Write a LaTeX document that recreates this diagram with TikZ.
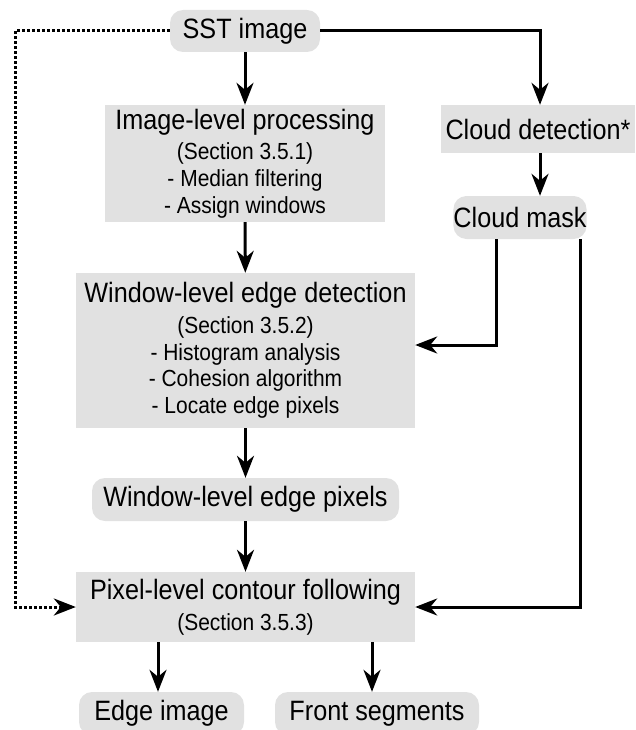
\documentclass[tikz,border=0pt]{standalone}
\usepackage{fontspec}
\setmainfont[FakeStretch=0.9]{Liberation Sans}
\usetikzlibrary{arrows.meta,calc}
\definecolor{boxgray}{RGB}{225,225,225}
\newcommand{\mainf}{\fontsize{28}{30}\selectfont}
\newcommand{\subf}{\fontsize{23.3}{26.7}\selectfont}
\tikzset{
  procbox/.style={rectangle, fill=boxgray, inner sep=0pt, align=center, font=\subf},
  databox/.style={rectangle, rounded corners=13pt, fill=boxgray, inner sep=0pt, align=center, font=\mainf},
  flow/.style={line width=3pt, -{Stealth[length=22pt,width=17pt,inset=7pt]}},
  dotflow/.style={line width=3pt, dotted, -{Stealth[length=22pt,width=17pt,inset=7pt]}}
}
\begin{document}
\begin{tikzpicture}[x=1pt,y=-1pt]
\clip (0,0) rectangle (635,730);
\useasboundingbox (0,0) rectangle (635,730);

\node[databox, minimum width=150pt, minimum height=42pt] (sst) at (245,31) {SST image};

\node[procbox, minimum width=280pt, minimum height=117pt] (img) at (245,163.5)
  {{\mainf Image-level processing}\\[4pt](Section 3.5.1)\\- Median filtering\\- Assign windows};

\node[procbox, font=\mainf, minimum width=194pt, minimum height=48pt] (cd) at (538,129) {Cloud detection*};

\node[databox, minimum width=124pt, minimum height=43pt] (cm) at (520,217.5) {Cloud mask};

\node[procbox, minimum width=339pt, minimum height=155pt] (win) at (245.5,350.5)
  {{\mainf Window-level edge detection}\\[4pt](Section 3.5.2)\\- Histogram analysis\\- Cohesion algorithm\\- Locate edge pixels};

\node[databox, minimum width=307pt, minimum height=43pt] (wep) at (245.5,499.5) {Window-level edge pixels};

\node[procbox, minimum width=339pt, minimum height=70pt] (pix) at (245.5,607)
  {{\mainf Pixel-level contour following}\\[4pt](Section 3.5.3)};

\node[databox, minimum width=165pt, minimum height=43pt] (ei) at (161.5,713.5) {Edge image};
\node[databox, minimum width=204pt, minimum height=43pt] (fs) at (377,713.5) {Front segments};

\coordinate (dl) at (15,31);

\draw[flow] (sst) -- (img);
\draw[flow] (sst.east) -| ([xshift=2pt]cd.north);
\draw[flow] ([xshift=2pt]cd.south) -- ([xshift=2pt]cd.south |- cm.north);
\draw[flow] (img) -- (win);
\draw[flow] (win) -- (wep);
\draw[flow] (wep) -- (pix);
\draw[flow] ([xshift=-24pt]cm.south) |- ([yshift=5.5pt]win.east);
\draw[flow] ([xshift=60pt]cm.south) |- (pix.east);
\draw[flow] ([xshift=-3.5pt]ei.north |- pix.south) -- ([xshift=-3.5pt]ei.north);
\draw[flow] ([xshift=-5pt]fs.north |- pix.south) -- ([xshift=-5pt]fs.north);
\draw[dotflow] (sst.west) -- (dl) |- (pix.west);
\end{tikzpicture}
\end{document}
